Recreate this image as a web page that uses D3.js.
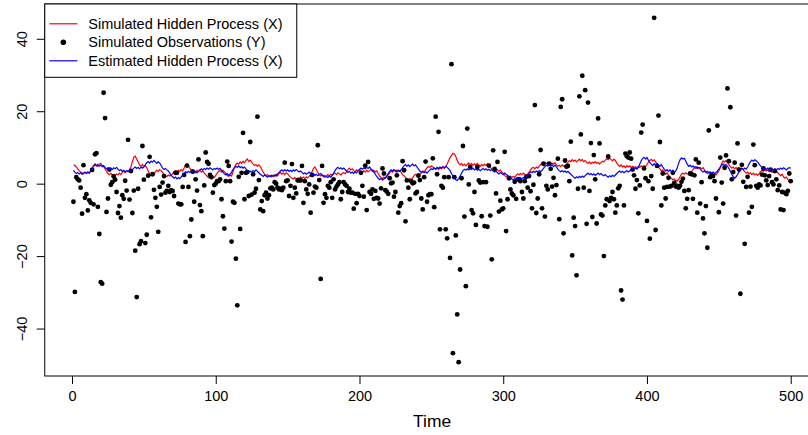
<!DOCTYPE html>
<html>
<head>
<meta charset="utf-8">
<script src="https://cdn.jsdelivr.net/npm/d3@7"></script>
<style>
  body { margin: 0; background: #fff; }
  svg { display: block; font-family: "Liberation Sans", Arial, Helvetica, sans-serif; }
</style>
</head>
<body>
<script>
// simulated hidden state X (red)
const hiddenX = [
  5.2, 5.0, 4.6, 4.1, 3.6, 3.2, 3.0, 2.7, 3.1, 2.9,
  3.3, 3.0, 3.6, 4.4, 5.0, 5.5, 5.1, 4.8, 5.4, 5.6,
  5.0, 4.7, 4.1, 3.4, 2.8, 2.5, 2.9, 2.3, 2.6, 2.2,
  2.7, 2.4, 2.9, 2.5, 3.1, 3.5, 3.0, 3.6, 3.3, 3.8,
  4.6, 6.1, 7.3, 7.6, 6.8, 6.0, 5.2, 4.8, 5.3, 4.6,
  5.0, 4.4, 3.5, 2.6, 2.3, 2.8, 2.5, 3.3, 3.7, 3.4,
  3.9, 3.6, 3.1, 2.6, 2.2, 2.0, 2.4, 2.1, 2.3, 2.8,
  3.3, 3.6, 3.2, 3.7, 3.4, 3.9, 3.5, 4.3, 5.2, 5.4,
  4.9, 4.2, 3.6, 3.9, 3.4, 3.0, 3.7, 3.3, 3.8, 3.2,
  3.5, 2.9, 2.5, 2.0, 1.6, 1.8, 1.5, 1.9, 1.7, 2.3,
  2.9, 3.4, 3.6, 3.2, 3.7, 3.3, 2.8, 2.3, 2.0, 2.4,
  2.1, 3.3, 4.5, 5.3, 5.7, 5.4, 6.0, 5.6, 6.2, 5.8,
  6.4, 6.8, 6.1, 6.5, 5.9, 5.4, 5.0, 5.3, 4.8, 5.2,
  4.7, 4.0, 3.2, 2.6, 2.2, 2.5, 2.0, 2.3, 1.9, 2.4,
  2.1, 2.6, 2.2, 2.8, 3.1, 2.6, 2.9, 2.5, 3.0, 2.7,
  2.2, 1.8, 1.5, 1.3, 1.7, 1.2, 1.6, 1.4, 1.9, 1.5,
  1.8, 1.4, 1.9, 1.6, 2.0, 2.4, 3.3, 4.2, 4.6, 3.9,
  3.1, 2.5, 2.1, 2.4, 1.9, 2.3, 2.0, 2.5, 2.2, 2.6,
  2.3, 2.7, 2.9, 2.5, 3.0, 2.7, 2.4, 2.8, 3.1, 2.7,
  3.3, 3.9, 4.3, 3.8, 4.1, 3.6, 3.3, 3.8, 3.5, 3.9,
  3.4, 3.0, 3.6, 3.2, 3.7, 3.3, 3.6, 3.9, 3.4, 3.7,
  3.2, 3.5, 2.8, 2.1, 1.7, 1.4, 1.8, 1.5, 1.9, 2.4,
  3.0, 3.5, 3.2, 3.7, 3.3, 3.8, 3.4, 3.6, 3.1, 2.5,
  2.2, 1.7, 1.3, 1.0, 1.4, 1.1, 1.6, 2.2, 2.6, 2.3,
  2.8, 2.5, 2.9, 3.4, 3.2, 3.8, 4.4, 4.8, 4.5, 4.9,
  4.6, 4.3, 4.0, 4.4, 3.9, 4.3, 4.1, 4.5, 4.2, 4.6,
  5.4, 6.3, 7.2, 7.8, 8.4, 8.2, 7.5, 6.4, 5.6, 5.2,
  5.6, 5.0, 5.4, 4.9, 5.3, 5.7, 5.2, 5.6, 5.0, 5.5,
  5.1, 5.6, 5.2, 4.8, 5.3, 4.9, 5.4, 5.0, 5.5, 5.1,
  4.6, 4.0, 3.7, 4.1, 3.6, 3.9, 3.4, 3.8, 3.2, 2.8,
  2.3, 1.9, 2.2, 1.8, 2.1, 1.7, 2.0, 1.8, 2.3, 2.7,
  2.4, 2.8, 2.5, 2.9, 2.6, 2.3, 2.7, 3.2, 3.8, 4.3,
  4.5, 4.1, 4.6, 4.3, 4.8, 5.3, 5.7, 5.4, 5.8, 5.5,
  5.9, 5.6, 5.3, 5.7, 5.4, 5.8, 5.2, 4.8, 5.1, 4.7,
  5.2, 4.8, 5.0, 5.4, 5.9, 6.4, 6.1, 6.6, 6.2, 6.5,
  6.0, 6.4, 6.8, 6.3, 6.7, 6.1, 6.4, 5.9, 5.6, 6.0,
  5.5, 5.9, 5.7, 6.1, 5.6, 5.9, 5.4, 5.8, 6.2, 6.0,
  6.5, 6.9, 6.6, 7.0, 6.7, 6.3, 6.8, 6.4, 5.7, 5.1,
  4.7, 5.2, 4.6, 4.9, 4.4, 5.0, 4.6, 4.9, 4.5, 4.8,
  4.4, 4.7, 4.3, 4.8, 4.5, 4.9, 4.6, 5.0, 4.7, 5.3,
  5.9, 6.4, 6.7, 6.3, 6.6, 6.0, 5.3, 4.6, 4.1, 3.5,
  3.8, 3.1, 2.6, 3.0, 2.3, 1.8, 1.5, 1.1, 1.3, 0.9,
  0.7, 1.2, 1.9, 2.6, 2.9, 2.6, 3.0, 2.7, 2.4, 2.8,
  3.3, 3.9, 4.4, 4.2, 4.6, 4.3, 4.5, 4.1, 4.4, 3.8,
  3.2, 2.8, 3.1, 2.6, 2.9, 2.5, 2.8, 2.4, 2.9, 3.5,
  4.4, 5.6, 6.3, 6.0, 6.4, 5.8, 5.2, 4.7, 4.3, 4.6,
  4.1, 4.5, 3.9, 4.4, 4.0, 4.3, 3.8, 3.3, 2.9, 3.2,
  2.7, 3.0, 2.5, 2.9, 2.4, 2.7, 2.3, 2.8, 3.3, 3.7,
  3.4, 3.9, 3.5, 3.8, 3.3, 3.6, 3.1, 3.5, 3.2, 3.6,
  3.0, 2.6, 2.2, 2.6, 1.9, 1.5, 1.8, 1.2, 0.8, 0.5
];

// estimated hidden state (blue)
const estimatedX = [
  3.7, 3.2, 2.8, 3.1, 2.7, 3.0, 2.6, 2.9, 3.2, 2.8,
  3.1, 2.9, 3.5, 4.2, 4.8, 5.2, 4.9, 5.3, 4.8, 5.1,
  4.7, 5.0, 4.5, 4.1, 4.4, 4.0, 4.3, 3.9, 4.4, 4.1,
  4.5, 4.0, 3.6, 3.9, 3.4, 3.7, 3.2, 3.6, 3.3, 3.7,
  3.4, 3.9, 4.3, 4.6, 4.2, 4.5, 4.1, 4.6, 4.3, 4.7,
  5.2, 5.8, 6.1, 5.7, 6.2, 5.9, 6.4, 6.0, 5.6, 6.1,
  5.7, 5.0, 4.3, 3.9, 4.2, 3.8, 3.5, 2.9, 2.3, 1.9,
  1.5, 1.8, 1.3, 1.7, 1.4, 1.9, 2.4, 2.9, 3.3, 3.0,
  3.4, 3.1, 3.5, 3.2, 3.6, 3.3, 3.0, 3.4, 3.8, 4.1,
  3.8, 4.2, 3.9, 4.3, 4.0, 4.4, 4.1, 3.8, 4.2, 4.0,
  4.3, 3.9, 4.2, 3.7, 3.2, 2.7, 2.4, 2.8, 2.3, 2.6,
  3.2, 3.9, 4.4, 4.8, 4.5, 4.9, 4.4, 4.7, 4.3, 4.6,
  4.1, 3.6, 3.2, 3.5, 3.1, 3.6, 3.3, 3.8, 3.4, 3.0,
  2.6, 2.3, 2.0, 2.4, 2.1, 1.8, 2.2, 1.9, 2.3, 2.0,
  2.4, 2.1, 2.6, 3.1, 3.5, 3.8, 3.4, 3.9, 3.5, 3.8,
  3.4, 3.7, 3.3, 3.8, 3.5, 3.9, 3.6, 3.2, 3.5, 3.1,
  2.7, 3.0, 2.6, 2.9, 3.2, 2.8, 2.4, 2.7, 2.3, 2.6,
  2.2, 2.5, 2.8, 2.4, 2.1, 1.8, 2.0, 1.7, 2.1, 1.8,
  2.3, 2.9, 3.6, 4.2, 4.5, 4.1, 4.4, 4.0, 4.3, 3.9,
  3.5, 3.1, 3.4, 2.9, 3.2, 2.8, 3.3, 3.0, 3.6, 3.9,
  4.3, 4.0, 4.4, 4.1, 4.5, 4.2, 4.6, 4.1, 3.7, 3.2,
  2.6, 2.0, 1.5, 1.1, 1.4, 1.0, 1.3, 1.6, 2.2, 2.8,
  3.4, 3.8, 3.5, 3.9, 3.6, 3.2, 3.7, 3.4, 3.9, 4.4,
  4.9, 5.3, 4.8, 5.2, 4.7, 5.1, 5.4, 4.9, 5.2, 4.6,
  4.0, 3.5, 3.1, 3.4, 3.0, 3.3, 2.9, 3.4, 3.8, 4.1,
  3.9, 4.3, 4.0, 4.5, 4.2, 4.6, 4.3, 4.7, 4.4, 4.8,
  4.5, 4.1, 3.6, 2.8, 2.1, 1.5, 1.1, 0.9, 1.4, 2.1,
  2.9, 3.6, 4.0, 3.7, 4.1, 3.8, 4.2, 3.9, 4.3, 3.8,
  4.1, 3.7, 4.0, 3.6, 3.9, 4.2, 3.8, 4.1, 3.7, 4.0,
  3.6, 3.9, 3.5, 3.2, 3.5, 3.0, 2.7, 3.1, 2.8, 2.5,
  2.9, 2.6, 2.3, 2.0, 1.6, 1.3, 1.0, 1.4, 1.1, 1.5,
  1.2, 1.6, 1.3, 1.7, 1.4, 1.8, 2.3, 2.9, 3.3, 3.0,
  3.4, 3.1, 3.5, 3.2, 3.6, 3.3, 3.7, 4.2, 4.7, 5.1,
  4.8, 5.3, 4.9, 5.2, 4.7, 5.1, 4.6, 4.0, 3.6, 3.3,
  3.6, 3.2, 3.5, 3.1, 3.4, 3.0, 2.6, 2.2, 1.8, 1.5,
  1.9, 1.6, 2.0, 1.7, 2.1, 1.8, 2.2, 2.6, 2.9, 2.5,
  2.8, 2.4, 2.7, 2.3, 2.6, 2.9, 2.5, 2.8, 2.4, 2.2,
  2.5, 2.1, 1.8, 2.2, 1.9, 2.3, 2.0, 2.4, 2.8, 3.2,
  3.5, 3.1, 3.4, 3.0, 3.3, 3.6, 3.2, 3.5, 3.9, 4.2,
  3.9, 4.3, 4.0, 4.5, 5.4, 6.3, 7.0, 7.3, 6.8, 7.2,
  6.5, 5.9, 5.4, 5.0, 5.5, 5.1, 5.6, 5.2, 4.8, 5.3,
  4.6, 4.0, 3.5, 3.9, 3.4, 3.8, 3.3, 3.7, 3.2, 3.5,
  4.3, 5.6, 6.6, 7.1, 6.8, 7.0, 6.2, 5.4, 4.8, 5.1,
  4.6, 4.9, 4.4, 4.7, 4.2, 4.5, 4.0, 3.6, 3.2, 3.5,
  3.1, 3.4, 3.0, 3.3, 2.9, 3.2, 2.8, 3.1, 3.5, 4.0,
  4.6, 5.1, 5.4, 5.0, 5.3, 4.8, 4.2, 3.4, 2.6, 1.9,
  1.5, 1.9, 2.5, 3.2, 3.8, 4.2, 3.9, 4.3, 4.0, 4.6,
  5.4, 6.1, 6.5, 6.2, 6.6, 6.3, 6.0, 5.4, 4.9, 4.5,
  4.1, 4.4, 3.9, 4.3, 4.0, 3.6, 4.0, 3.7, 4.1, 3.8,
  4.2, 3.9, 4.3, 4.0, 4.4, 4.1, 3.8, 4.2, 4.4, 4.3
];

// simulated observations Y (black points)
const observedY = [
  -5.0, -29.9, 1.8, 1.2, 0.9, -1.1, -8.3, 5.1, -3.9, -2.9,
  -7.4, -4.6, -5.3, 3.8, -5.7, 8.1, 8.4, -6.4, -13.9, -27.2,
  -27.6, 25.1, 18.1, -7.8, -4.1, 3.9, -0.3, 0.4, 2.0, 1.1,
  -2.3, -8.1, -6.2, -9.4, -3.2, -4.2, 0.8, -1.9, 12.1, -4.4,
  3.5, -8.1, -1.9, -18.5, -31.3, -1.4, -16.7, -15.9, 10.4, 1.1,
  -16.4, -14.1, 2.2, 7.4, -9.3, 2.6, -1.7,
  -3.9, -6.4, -13.3, -0.9, -3.0, 0.3, 2.1, -2.5, -2.0, -0.6,
  -2.3, -1.8, -2.0, -3.4, 3.0, 3.0, -5.5, -5.7, -5.7, -0.9,
  2.4, -16.1, 5.0, -0.9, -14.5, -9.9, 3.3, -5.0, 1.2, -1.9,
  6.7, -5.9, -7.6, -14.5, -0.5, 8.6, 6.0, 5.5, 2.4, 1.8,
  -2.5, -0.4, 0.0, 0.7, 0.7, 1.2, -4.3, -9.0, -12.4, 0.7,
  6.1, 4.9, 0.7, -16.0, -5.0, -5.3, -20.7, -33.6, 1.9, -12.5,
  3.0, 14.0, -4.3, 3.0, 3.2, -3.4, 11.5, -3.0, 2.6, -2.5,
  -1.4, 18.5, 1.0, -7.1, -4.8, -7.6, -3.2,
  -2.5, -4.1, -3.2, -1.3, -1.1, -1.6, 0.4, 0.0, -1.1, -1.6,
  -1.4, -1.8, -1.1, 5.8, 0.7, 0.9, -3.4, -0.6, 5.4, -3.9,
  -1.1, -2.7, 0.9, 0.9, 0.9, 4.9, -5.3, 0.7, -1.6, -2.8,
  -0.2, -8.0, 2.4, -2.5, -0.8, -1.1, 10.6, 1.0, -26.3, 4.9,
  -5.3, -2.9, -3.9, -0.6, -1.1, 0.4, -3.9, 1.2, -1.6, -0.8,
  -0.2, 0.4, -4.3, -2.3, 0.4, -0.2, -0.6, -2.3, -1.4, -2.5,
  -2.5, -6.9, -2.8, -5.4, -2.8, -3.4, 3.0, -0.6, -3.6, 5.0,
  -7.3, 6.0, -2.3, -2.8, -1.6, -4.2,
  -2.0, -3.9, -4.1, -5.5, -1.3, 4.2, 2.8, -1.8, -2.2, -2.8,
  1.5, 0.1, 0.3, -3.6, -2.3, 2.3, -8.0, -6.2, -5.4, 6.2,
  3.7, -10.4, 0.9, -1.1, -4.3, 0.7, 0.1, 0.3, -2.7, -2.3,
  2.2, 1.0, -4.1, -7.1, 1.8, 6.1, -5.0, -3.2, -2.9, -2.9,
  7.0, -6.5, 18.5, 2.6, 14.3, -12.6, -0.6, -1.1, 1.8, -12.6,
  -15.1, 1.8, -20.5, 33.0, -46.8, 1.8, -14.3, -36.1, -49.3, -23.7,
  1.5, 10.4, -9.1, -28.3, 15.2, -0.2, 4.6, -7.3, -8.2, -2.3,
  -11.4, 4.6, 0.9, 0.3, -9.0, 0.4, -11.7,
  0.4, -11.9, 5.0, -8.8, -20.9, 9.2, 4.1, -2.7, 6.0, -7.7,
  -4.7, -7.1, -6.8, 8.8, -13.1, -4.3, 1.5, -1.6, -2.7, -3.2,
  0.5, -4.2, 1.2, 1.2, 0.7, -2.3, -4.1, 0.7, 1.9, -1.1,
  2.1, -2.1, -6.8, -0.3, 21.7, -8.1, -4.1, 2.6, 9.3, -6.8,
  5.5, -9.1, -0.6, -1.6, 5.5, 4.1, -0.8, 1.6, -3.2, -0.4,
  6.9, -9.8, 21.2, 23.3, -13.7, 6.4, 4.7, 4.9, 0.7, 11.6,
  -19.8, -9.4, -11.7, -25.3, -1.4, 24.1, 13.6, 29.8, -1.1, 25.8,
  -11.1, 22.4, -2.0, 11.2, -9.2, 7.9,
  1.2, -11.0, 18.0, 11.1, -8.5, -8.8, -20.0, -6.0, -4.3, 7.5,
  -4.8, -3.9, -2.3, -4.3, -8.0, -6.0, -1.3, -0.6, -29.5, -32.0,
  -6.0, 8.3, 7.6, 7.2, 8.6, 6.9, 3.9, 2.3, -1.4, 1.0,
  -8.2, -0.5, 14.1, 16.3, 4.2, 1.5, -10.3, 0.7, -15.2, 2.1,
  -1.4, 45.8, -12.8, 4.9, 18.8, 11.5, -6.0, 2.8, -1.1, -4.1,
  -0.9, 1.6, -0.8, -0.6, 3.0, 0.2, -0.8, -0.6, -1.1, -0.6,
  0.5, 1.4, -2.0, -6.8, -4.2, -1.8, 2.8, 2.6, -4.2, 2.3,
  6.7, -8.0, 5.8, -5.5, 0.4, -9.6, -13.7,
  -6.2, -17.7, 14.7, 1.8, 2.3, 2.1, 0.7, -4.1, 16.0, -7.9,
  7.2, 0.3, -5.5, 4.4, 7.8, 26.3, 6.2, 21.1, 1.2, 3.2,
  5.8, -8.8, 11.1, 3.9, -30.4, 5.2, 0.5, -16.6, -0.9, 1.9,
  -8.0, -0.8, -6.4, 10.8, 5.1, -0.6, -1.1, -0.2, -0.5, 2.5,
  4.2, 2.3, 0.9, -0.4, 2.1, 3.9, 0.4, -0.2, 3.5, 1.2,
  -1.8, -0.5, -7.1, -2.3, -7.3, -2.5, -2.9, -2.0, 2.8, 0.7
];

const xTicks = [0, 100, 200, 300, 400, 500];
const yTicks = [-40, -20, 0, 20, 40];
const legendLabels = ["Simulated Hidden Process (X)", "Simulated Observations (Y)", "Estimated Hidden Process (X)"];
const xLabel = "Time";

const width = 808, height = 435;
// plot region (R style, right edge runs past the window)
const plotLeft = 44.75, plotRight = 819.4, plotTop = 4, plotBottom = 376;

const time = d3.range(1, observedY.length + 1);
const n = time.length;
const [yMin, yMax] = d3.extent(observedY);
const xPad = (n - 1) * 0.04;
const yPad = (yMax - yMin) * 0.04;

const x = d3.scaleLinear().domain([1 - xPad, n + xPad]).range([plotLeft, plotRight]);
const y = d3.scaleLinear().domain([yMin - yPad, yMax + yPad]).range([plotBottom, plotTop]);

const svg = d3.select("body").append("svg")
  .attr("width", width)
  .attr("height", height);

const line = d3.line()
  .x((d, i) => x(i + 1))
  .y(d => y(d));

svg.append("path")
  .datum(hiddenX)
  .attr("fill", "none")
  .attr("stroke", "#ff0000")
  .attr("stroke-width", 1.2)
  .attr("d", line);

svg.append("g")
  .selectAll("circle")
  .data(observedY)
  .enter()
  .append("circle")
  .attr("cx", (d, i) => x(i + 1))
  .attr("cy", d => y(d))
  .attr("r", 2.4)
  .attr("fill", "#000");

svg.append("path")
  .datum(estimatedX)
  .attr("fill", "none")
  .attr("stroke", "#0000ff")
  .attr("stroke-width", 1.2)
  .attr("d", line);

// box
svg.append("rect")
  .attr("x", plotLeft)
  .attr("y", plotTop)
  .attr("width", plotRight - plotLeft)
  .attr("height", plotBottom - plotTop)
  .attr("fill", "none")
  .attr("stroke", "#000")
  .attr("stroke-width", 1);

const fontSize = 14.5;

const xAxis = svg.append("g")
  .attr("transform", `translate(0,${plotBottom})`)
  .call(d3.axisBottom(x).tickValues(xTicks).tickSize(8).tickSizeOuter(0).tickFormat(d3.format("d")));
xAxis.select(".domain").remove();
xAxis.selectAll("line").attr("stroke", "#000");
xAxis.selectAll("text")
  .attr("y", 20)
  .attr("dy", "0.35em")
  .attr("font-size", fontSize)
  .attr("font-family", "Liberation Sans, Arial, sans-serif")
  .attr("fill", "#000");

const yAxis = svg.append("g")
  .attr("transform", `translate(${plotLeft},0)`)
  .call(d3.axisLeft(y).tickValues(yTicks).tickSize(8).tickSizeOuter(0).tickFormat(d => d < 0 ? "\u2212" + Math.abs(d) : d));
yAxis.select(".domain").remove();
yAxis.selectAll("line").attr("stroke", "#000");
yAxis.selectAll("text")
  .attr("x", null)
  .attr("dy", "0.35em")
  .attr("text-anchor", "middle")
  .attr("transform", "translate(-22.7,0) rotate(-90)")
  .attr("font-size", fontSize)
  .attr("font-family", "Liberation Sans, Arial, sans-serif")
  .attr("fill", "#000");

svg.append("text")
  .attr("x", (plotLeft + plotRight) / 2)
  .attr("y", 421)
  .attr("dy", "0.35em")
  .attr("text-anchor", "middle")
  .attr("font-size", 17.4)
  .text(xLabel);

// legend, top left
const legend = svg.append("g");
legend.append("rect")
  .attr("x", plotLeft)
  .attr("y", plotTop)
  .attr("width", 252)
  .attr("height", 73.3)
  .attr("fill", "#fff")
  .attr("stroke", "#000")
  .attr("stroke-width", 1);

const rows = legend.selectAll("g.row")
  .data(legendLabels)
  .enter()
  .append("g")
  .attr("class", "row")
  .attr("transform", (d, i) => `translate(${plotLeft},${plotTop + 19.8 + i * 18.5})`);

rows.filter((d, i) => i !== 1)
  .append("line")
  .attr("x1", 4.6).attr("x2", 32.6)
  .attr("stroke", (d, i) => i === 0 ? "#ff0000" : "#0000ff")
  .attr("stroke-width", 1.2);

rows.filter((d, i) => i === 1)
  .append("circle")
  .attr("cx", 18.6)
  .attr("r", 2.8)
  .attr("fill", "#000");

rows.append("text")
  .attr("x", 43.5)
  .attr("dy", "0.35em")
  .attr("font-size", fontSize)
  .text(d => d);
</script>
</body>
</html>
